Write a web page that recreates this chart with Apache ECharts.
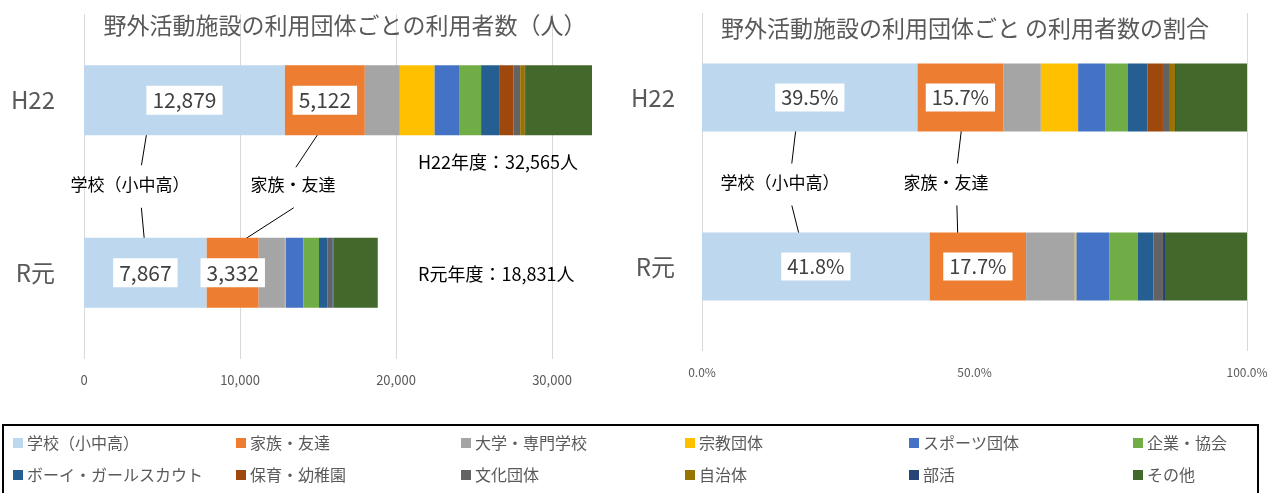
<!DOCTYPE html>
<html>
<head>
<meta charset="utf-8">
<script src="https://cdn.jsdelivr.net/npm/echarts@6/dist/echarts.min.js"></script>
<style>
    html, body {margin: 0; padding: 0; background: #fff;}
    #main {width: 1282px; height: 493px;}
</style>
</head>
<body>
<div id="main"></div>
<script>
// 年度
var categories = ['H22', 'R元'];
// 利用団体
var groupNames = ['学校（小中高）', '家族・友達', '大学・専門学校', '宗教団体', 'スポーツ団体', '企業・協会',
    'ボーイ・ガールスカウト', '保育・幼稚園', '文化団体', '自治体', '部活', 'その他'];
var groupColors = ['#BDD7EE', '#ED7D31', '#A5A5A5', '#FFC000', '#4472C4', '#70AD47',
    '#255E91', '#9E480E', '#636363', '#997300', '#264478', '#43682B'];
// 利用者数（人）
var valuesH22 = [12879, 5122, 2247, 2227, 1612, 1368, 1153, 935, 417, 300, 59, 4246];
var valuesR1 = [7867, 3332, 1682, 56, 1130, 998, 527, 0, 335, 0, 70, 2834];
// 軸ラベル
var countTicks = [0, 10000, 20000, 30000];
var shareTicks = [0, 50, 100];

var FONT = "'Noto Sans CJK JP', sans-serif";
var GRAY = '#595959';

function sum(arr) {
    var s = 0;
    for (var i = 0; i < arr.length; i++) s += arr[i];
    return s;
}
function fmt(n) {
    return n.toLocaleString('en-US');
}
var totalH22 = sum(valuesH22);
var totalR1 = sum(valuesR1);

var series = [];
var legends = [];
var colX = [13, 236, 461, 685, 909, 1133];
var rowY = [435, 467];

for (var i = 0; i < groupNames.length; i++) {
    var showLabel = i < 2;
    //左：人数
    series.push({
        name: groupNames[i],
        type: 'bar',
        stack: 'count',
        xAxisIndex: 0,
        yAxisIndex: 0,
        barWidth: 70,
        itemStyle: {color: groupColors[i]},
        label: {
            show: showLabel,
            position: 'inside',
            formatter: function (p) { return fmt(p.value); },
            backgroundColor: '#fff',
            padding: [5, 6, 3, 6],
            color: '#404040',
            fontSize: 21,
            fontFamily: FONT
        },
        data: [valuesH22[i], valuesR1[i]]
    });
    //右：割合
    series.push({
        name: groupNames[i],
        type: 'bar',
        stack: 'share',
        xAxisIndex: 1,
        yAxisIndex: 1,
        barWidth: 68,
        itemStyle: {color: groupColors[i]},
        label: {
            show: showLabel,
            position: 'inside',
            formatter: function (p) { return p.value.toFixed(1) + '%'; },
            backgroundColor: '#fff',
            padding: [5, 6, 3, 6],
            color: '#404040',
            fontSize: 20,
            fontFamily: FONT
        },
        data: [valuesH22[i] / totalH22 * 100, valuesR1[i] / totalR1 * 100]
    });
    legends.push({
        data: [groupNames[i]],
        left: colX[i % 6],
        top: rowY[Math.floor(i / 6)],
        padding: 0,
        icon: 'rect',
        itemWidth: 10,
        itemHeight: 10,
        selectedMode: false,
        textStyle: {color: GRAY, fontSize: 16, fontFamily: FONT, padding: [0, 0, 0, -1]}
    });
}

var myCharts = echarts.init(document.getElementById('main'), null, {renderer: 'canvas'});
myCharts.setOption({
    animation: false,
    textStyle: {fontFamily: FONT},
    legend: legends,
    grid: [
        {left: 84, top: 14, width: 546, height: 345},
        {left: 702, top: 13, width: 545, height: 338}
    ],
    xAxis: [{
        gridIndex: 0,
        type: 'value',
        min: 0,
        max: 35000,
        interval: 10000,
        axisLine: {show: false},
        axisTick: {show: false},
        splitLine: {
            show: true, showMaxLine: false,
            lineStyle: {color: ['#D9D9D9', '#D9D9D9', '#D9D9D9', '#D9D9D9', 'rgba(0,0,0,0)']}
        },
        axisLabel: {
            showMaxLabel: false,
            color: GRAY, fontSize: 13, margin: 15,
            formatter: function (v) { return countTicks.indexOf(v) >= 0 ? fmt(v) : ''; }
        }
    }, {
        gridIndex: 1,
        type: 'value',
        min: 0,
        max: 100,
        interval: 50,
        axisLine: {show: false},
        axisTick: {show: false},
        splitLine: {
            show: true,
            lineStyle: {color: ['#D9D9D9', 'rgba(0,0,0,0)', '#D9D9D9']}
        },
        axisLabel: {
            color: GRAY, fontSize: 12, margin: 15,
            formatter: function (v) { return shareTicks.indexOf(v) >= 0 ? v.toFixed(1) + '%' : ''; }
        }
    }],
    yAxis: [{
        gridIndex: 0,
        type: 'category',
        inverse: true,
        data: categories,
        axisLine: {show: false},
        axisTick: {show: false},
        axisLabel: {color: GRAY, fontSize: 24, margin: 29}
    }, {
        gridIndex: 1,
        type: 'category',
        inverse: true,
        data: categories,
        axisLine: {show: false},
        axisTick: {show: false},
        axisLabel: {color: GRAY, fontSize: 24, margin: 27}
    }],
    series: series
});

//注釈（タイトル・引き出し線・合計）
function px(grid, x, cat) {
    return myCharts.convertToPixel({gridIndex: grid}, [x, cat]);
}
function line(p, d1, d2) {
    return {
        type: 'line',
        shape: {x1: p[0] + d1[0], y1: p[1] + d1[1], x2: p[0] + d2[0], y2: p[1] + d2[1]},
        style: {stroke: '#000', lineWidth: 1}
    };
}
function text(x, y, str, size, color, align) {
    return {
        type: 'text',
        x: x, y: y,
        style: {text: str, fill: color, font: size + 'px ' + FONT, align: align || 'center', verticalAlign: 'middle'}
    };
}

var sharesH22 = series[1].data[0], sharesR1 = series[1].data[1];
var a1 = px(0, valuesH22[0] / 2, 0);
var a2 = px(0, valuesR1[0] / 2, 1);
var b1 = px(0, valuesH22[0] + valuesH22[1] / 2, 0);
var b2 = px(0, valuesR1[0] + valuesR1[1] / 2, 1);
var c1 = px(1, sharesH22 / 2, 0);
var c2 = px(1, sharesR1 / 2, 1);
var d1 = px(1, sharesH22 + series[3].data[0] / 2, 0);
var d2 = px(1, sharesR1 + series[3].data[1] / 2, 1);
var midY = (a1[1] + a2[1]) / 2;
var midY2 = (c1[1] + c2[1]) / 2;

myCharts.setOption({
    graphic: [
        text(345, 25, '野外活動施設の利用団体ごとの利用者数（人）', 23, GRAY),
        text(965, 28, '野外活動施設の利用団体ごと の利用者数の割合', 23, GRAY),
        line(a1, [-36, 22], [-43, 65]),
        line(a2, [-4, -65], [0, -22]),
        line(b1, [1, 22], [-29, 67]),
        line(b2, [61, -65], [2, -27]),
        text(130, midY - 2, '学校（小中高）', 17, '#000'),
        text(293, midY - 2, '家族・友達', 17, '#000'),
        line(c1, [-13, 24], [-18, 66]),
        line(c2, [-24, -61], [-14, -21]),
        line(d1, [2, 24], [-3, 66]),
        line(d2, [-21, -61], [-20, -26]),
        text(780, midY2 + 1, '学校（小中高）', 17, '#000'),
        text(946, midY2 + 1, '家族・友達', 17, '#000'),
        text(418, 162, 'H22年度：' + fmt(totalH22) + '人', 18, '#000', 'left'),
        text(418, 274, 'R元年度：' + fmt(totalR1) + '人', 18, '#000', 'left'),
        {
            type: 'rect',
            shape: {x: 3, y: 425, width: 1255, height: 80},
            style: {fill: 'none', stroke: '#000', lineWidth: 2}
        }
    ]
});
</script>
</body>
</html>
